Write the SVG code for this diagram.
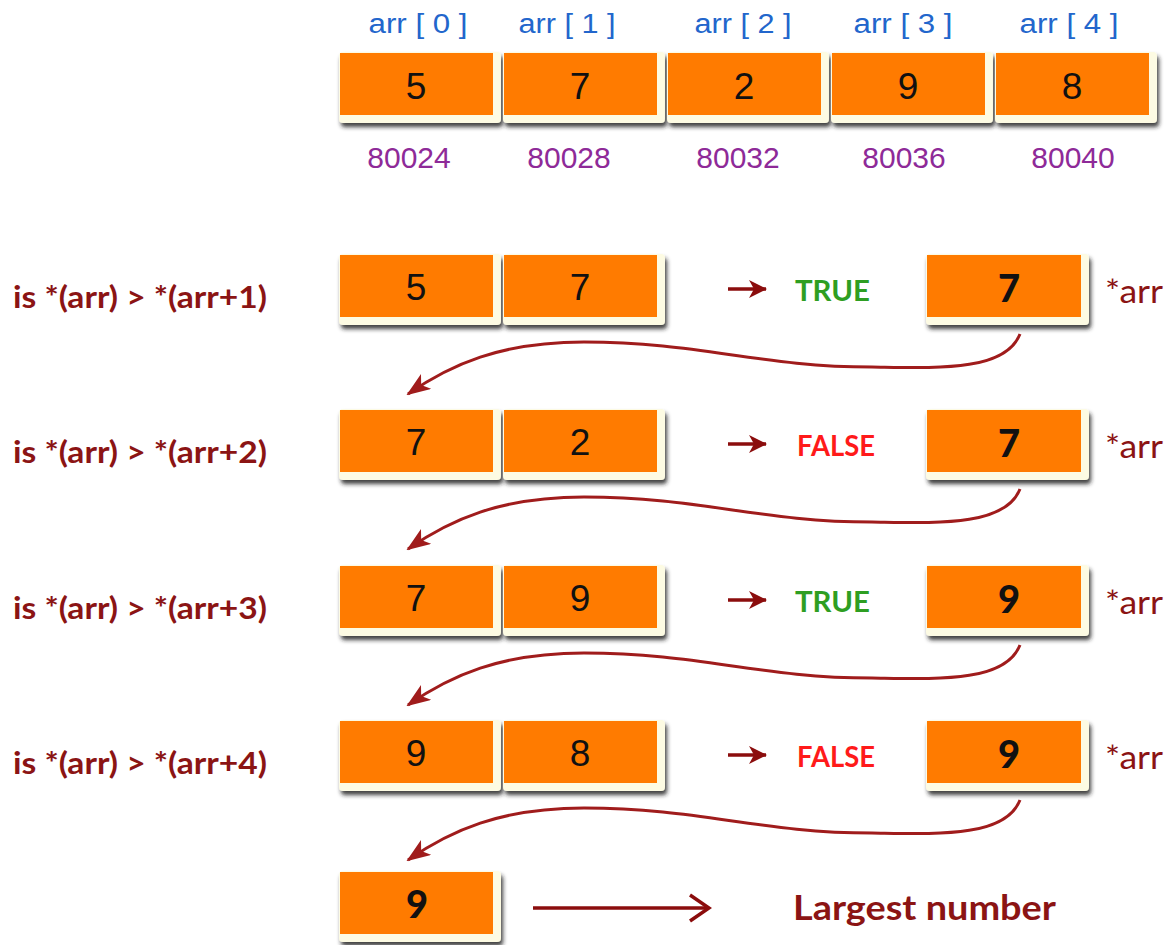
<svg xmlns="http://www.w3.org/2000/svg" width="1171" height="945" viewBox="0 0 1171 945">
  <style>
    .frame { fill: #fdfbe3; filter: url(#shadow); }
    .cell { fill: #ff7b00; }
    .num { font-family: "Liberation Sans", Arial, sans-serif; font-size: 37px; fill: #111; text-anchor: middle; }
    .bnum { font-family: Lato, "Open Sans", sans-serif; font-weight: 900; font-size: 38px; fill: #111; text-anchor: middle; }
    .idx { font-family: "Liberation Sans", Arial, sans-serif; font-size: 27px; fill: #2266cc; text-anchor: middle; }
    .addr { font-family: "Liberation Sans", Arial, sans-serif; font-size: 30px; fill: #8e2a98; text-anchor: middle; }
    .cond { font-family: Lato, "Open Sans", sans-serif; font-weight: bold; font-size: 30px; fill: #8b1414; }
    .ptr { font-family: Lato, "Open Sans", sans-serif; font-size: 33px; fill: #8b1414; }
    .true { font-family: Lato, "Open Sans", sans-serif; font-weight: bold; font-size: 29px; fill: #2e9e22; }
    .false { font-family: Lato, "Open Sans", sans-serif; font-weight: bold; font-size: 29px; fill: #ff1a1a; }
    .result { font-family: Lato, "Open Sans", sans-serif; font-weight: bold; font-size: 35px; fill: #8b1414; }
    .curve { fill: none; stroke: #a01c1c; stroke-width: 3; marker-end: url(#barb); }
    .short { fill: none; stroke: #8b0d0d; stroke-width: 3.5; marker-end: url(#smallhead); }
    .long { fill: none; stroke: #8b0d0d; stroke-width: 3.5; marker-end: url(#chevron); }
  </style>
  <defs>
    <filter id="shadow" x="-10%" y="-20%" width="130%" height="160%">
      <feDropShadow dx="2" dy="4" stdDeviation="2" flood-color="#1a1a1a" flood-opacity="0.85"/>
    </filter>
    <marker id="barb" markerUnits="userSpaceOnUse" viewBox="0 0 24 18" refX="22" refY="9" markerWidth="24" markerHeight="18" orient="auto">
      <path d="M0,0 L24,9 L0,18 L6,9 z" fill="#a01c1c"/>
    </marker>
    <marker id="smallhead" markerUnits="userSpaceOnUse" viewBox="0 0 18 18" refX="17" refY="9" markerWidth="18" markerHeight="18" orient="auto">
      <path d="M0,0 L18,9 L0,18 L5,9 z" fill="#8b0d0d"/>
    </marker>
    <marker id="chevron" markerUnits="userSpaceOnUse" viewBox="0 0 24 30" refX="21" refY="15" markerWidth="24" markerHeight="30" orient="auto">
      <path d="M2,2 L21,15 L2,28" fill="none" stroke="#8b0d0d" stroke-width="3.5"/>
    </marker>
  </defs>

  <rect width="1171" height="945" fill="#ffffff"/>

  <!-- array in memory -->
  <g id="array">
    <g id="cell0">
      <text class="idx" x="418" y="33" textLength="99" lengthAdjust="spacingAndGlyphs">arr [ 0 ]</text>
      <rect class="frame" x="339" y="52" width="162" height="71" rx="4"/>
      <rect class="cell" x="340" y="53" width="153" height="62"/>
      <text class="num" x="416" y="99">5</text>
      <text class="addr" x="409" y="168">80024</text>
    </g>
    <g id="cell1">
      <text class="idx" x="567" y="33" textLength="97" lengthAdjust="spacingAndGlyphs">arr [ 1 ]</text>
      <rect class="frame" x="503" y="52" width="162" height="71" rx="4"/>
      <rect class="cell" x="504" y="53" width="153" height="62"/>
      <text class="num" x="580" y="99">7</text>
      <text class="addr" x="569" y="168">80028</text>
    </g>
    <g id="cell2">
      <text class="idx" x="743" y="33" textLength="97" lengthAdjust="spacingAndGlyphs">arr [ 2 ]</text>
      <rect class="frame" x="667" y="52" width="162" height="71" rx="4"/>
      <rect class="cell" x="668" y="53" width="153" height="62"/>
      <text class="num" x="744" y="99">2</text>
      <text class="addr" x="738" y="168">80032</text>
    </g>
    <g id="cell3">
      <text class="idx" x="903" y="33" textLength="99" lengthAdjust="spacingAndGlyphs">arr [ 3 ]</text>
      <rect class="frame" x="831" y="52" width="162" height="71" rx="4"/>
      <rect class="cell" x="832" y="53" width="153" height="62"/>
      <text class="num" x="908" y="99">9</text>
      <text class="addr" x="904" y="168">80036</text>
    </g>
    <g id="cell4">
      <text class="idx" x="1069" y="33" textLength="99" lengthAdjust="spacingAndGlyphs">arr [ 4 ]</text>
      <rect class="frame" x="995" y="52" width="162" height="71" rx="4"/>
      <rect class="cell" x="996" y="53" width="153" height="62"/>
      <text class="num" x="1072" y="99">8</text>
      <text class="addr" x="1073" y="168">80040</text>
    </g>
  </g>

  <!-- step 1 -->
  <g id="step1">
    <text class="cond" x="13" y="308" textLength="254" lengthAdjust="spacingAndGlyphs">is *(arr) &gt; *(arr+1)</text>
    <rect class="frame" x="339" y="254" width="162" height="71" rx="4"/>
    <rect class="cell" x="340" y="255" width="153" height="62"/>
    <text class="num" x="416" y="300">5</text>
    <rect class="frame" x="503" y="254" width="162" height="71" rx="4"/>
    <rect class="cell" x="504" y="255" width="153" height="62"/>
    <text class="num" x="580" y="300">7</text>
    <text class="true" x="795" y="301" textLength="75" lengthAdjust="spacingAndGlyphs">TRUE</text>
    <rect class="frame" x="926" y="254" width="163" height="71" rx="4"/>
    <rect class="cell" x="927" y="255" width="154" height="62"/>
    <text class="bnum" x="1009" y="302">7</text>
    <text class="ptr" x="1105" y="303" textLength="58" lengthAdjust="spacingAndGlyphs">*arr</text>
  </g>

  <!-- step 2 -->
  <g id="step2">
    <text class="cond" x="13" y="463" textLength="254" lengthAdjust="spacingAndGlyphs">is *(arr) &gt; *(arr+2)</text>
    <rect class="frame" x="339" y="409" width="162" height="71" rx="4"/>
    <rect class="cell" x="340" y="410" width="153" height="62"/>
    <text class="num" x="416" y="455">7</text>
    <rect class="frame" x="503" y="409" width="162" height="71" rx="4"/>
    <rect class="cell" x="504" y="410" width="153" height="62"/>
    <text class="num" x="580" y="455">2</text>
    <text class="false" x="797" y="456" textLength="78" lengthAdjust="spacingAndGlyphs">FALSE</text>
    <rect class="frame" x="926" y="409" width="163" height="71" rx="4"/>
    <rect class="cell" x="927" y="410" width="154" height="62"/>
    <text class="bnum" x="1009" y="457">7</text>
    <text class="ptr" x="1105" y="458" textLength="58" lengthAdjust="spacingAndGlyphs">*arr</text>
  </g>

  <!-- step 3 -->
  <g id="step3">
    <text class="cond" x="13" y="619" textLength="254" lengthAdjust="spacingAndGlyphs">is *(arr) &gt; *(arr+3)</text>
    <rect class="frame" x="339" y="565" width="162" height="71" rx="4"/>
    <rect class="cell" x="340" y="566" width="153" height="62"/>
    <text class="num" x="416" y="611">7</text>
    <rect class="frame" x="503" y="565" width="162" height="71" rx="4"/>
    <rect class="cell" x="504" y="566" width="153" height="62"/>
    <text class="num" x="580" y="611">9</text>
    <text class="true" x="795" y="612" textLength="75" lengthAdjust="spacingAndGlyphs">TRUE</text>
    <rect class="frame" x="926" y="565" width="163" height="71" rx="4"/>
    <rect class="cell" x="927" y="566" width="154" height="62"/>
    <text class="bnum" x="1009" y="613">9</text>
    <text class="ptr" x="1105" y="614" textLength="58" lengthAdjust="spacingAndGlyphs">*arr</text>
  </g>

  <!-- step 4 -->
  <g id="step4">
    <text class="cond" x="13" y="774" textLength="254" lengthAdjust="spacingAndGlyphs">is *(arr) &gt; *(arr+4)</text>
    <rect class="frame" x="339" y="720" width="162" height="71" rx="4"/>
    <rect class="cell" x="340" y="721" width="153" height="62"/>
    <text class="num" x="416" y="766">9</text>
    <rect class="frame" x="503" y="720" width="162" height="71" rx="4"/>
    <rect class="cell" x="504" y="721" width="153" height="62"/>
    <text class="num" x="580" y="766">8</text>
    <text class="false" x="797" y="767" textLength="78" lengthAdjust="spacingAndGlyphs">FALSE</text>
    <rect class="frame" x="926" y="720" width="163" height="71" rx="4"/>
    <rect class="cell" x="927" y="721" width="154" height="62"/>
    <text class="bnum" x="1009" y="768">9</text>
    <text class="ptr" x="1105" y="769" textLength="58" lengthAdjust="spacingAndGlyphs">*arr</text>
  </g>

  <!-- result -->
  <g id="result">
    <rect class="frame" x="339" y="871" width="162" height="71" rx="4"/>
    <rect class="cell" x="340" y="872" width="153" height="62"/>
    <text class="bnum" x="417" y="918">9</text>
    <text class="result" x="793" y="920" textLength="263" lengthAdjust="spacingAndGlyphs">Largest number</text>
  </g>

  <!-- connectors -->
  <g id="connectors">
    <path class="short" d="M728,289 L766,289"/>
    <path class="short" d="M728,444 L766,444"/>
    <path class="short" d="M728,600 L766,600"/>
    <path class="short" d="M728,755 L766,755"/>

    <path class="curve" d="M1020,334 C1005,372 935,368 872,367 C760,367 700,342 584,342 C500,342 450,365 408,394"/>
    <path class="curve" transform="translate(0,155)" d="M1020,334 C1005,372 935,368 872,367 C760,367 700,342 584,342 C500,342 450,365 408,394"/>
    <path class="curve" transform="translate(0,311)" d="M1020,334 C1005,372 935,368 872,367 C760,367 700,342 584,342 C500,342 450,365 408,394"/>
    <path class="curve" transform="translate(0,466)" d="M1020,334 C1005,372 935,368 872,367 C760,367 700,342 584,342 C500,342 450,365 408,394"/>

    <path class="long" d="M533,908 L709,908"/>
  </g>
</svg>
